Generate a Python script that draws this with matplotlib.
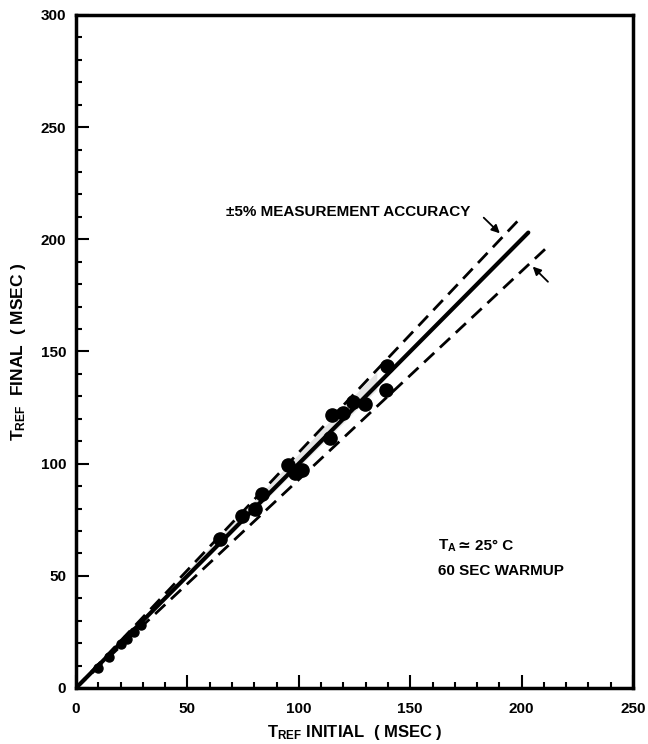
import numpy as np
import matplotlib.pyplot as plt

plt.rcParams['font.family'] = ['Liberation Sans', 'DejaVu Sans']
plt.rcParams['font.weight'] = 'bold'
plt.rcParams['mathtext.default'] = 'regular'

# measured points (T_REF initial, T_REF final), msec
x_low = [10, 15, 20, 23, 26, 29]
y_low = [9, 14, 19.5, 22, 25, 28]
x_pts = [64.6, 74.4, 80.5, 83.3, 95.3, 98.5, 101.5, 114.0, 114.7, 120.0, 124.5, 129.5, 139.4, 139.0]
y_pts = [66.2, 76.8, 80.0, 86.3, 99.5, 95.8, 97.3, 111.5, 121.6, 122.5, 127.5, 126.8, 143.3, 132.8]

# reference line and accuracy band
x_ideal = [0, 203]
y_ideal = [0, 203]
x_upper = [0, 199.5]
y_upper = [0, 209.5]
x_lower = [0, 211.5]
y_lower = [0, 196.5]
x_shade = [0, 135]
y_shade_top = [0, 141]
y_shade_bot = [0, 133]

fig = plt.figure(figsize=(6.48, 7.44), dpi=100)
ax = fig.add_axes([0.1173, 0.0753, 0.8596, 0.9046])

ax.fill_between(x_shade, y_shade_bot, y_shade_top, color='#e4e4e4', lw=0, zorder=1)
ax.plot(x_ideal, y_ideal, color='black', lw=3, solid_capstyle='round', zorder=3)
ax.plot(x_upper, y_upper, color='black', lw=2, linestyle=(0, (5, 2.8)), zorder=2)
ax.plot(x_lower, y_lower, color='black', lw=2, linestyle=(0, (5, 2.8)), zorder=2)
ax.plot(x_low, y_low, 'o', color='black', ms=6.5, zorder=4)
ax.plot(x_pts, y_pts, 'o', color='black', ms=9.5, zorder=4)

ax.text(67.5, 212, '±5% MEASUREMENT ACCURACY', fontsize=11, va='center', ha='left')
ax.annotate('', xy=(191.1, 201.8), xytext=(182.1, 210.5),
            arrowprops=dict(arrowstyle='-|>', color='black', lw=1.3, mutation_scale=12))
ax.annotate('', xy=(204.1, 188.7), xytext=(212.7, 180.2),
            arrowprops=dict(arrowstyle='-|>', color='black', lw=1.3, mutation_scale=12))

ax.text(162.5, 63.4, 'T$_{A}$', fontsize=11, va='center', ha='left')
ax.annotate('≃ 25° C', xy=(162.5, 63.4), xytext=(14.5, 0), textcoords='offset points',
            fontsize=11, va='center', ha='left')
ax.text(162.5, 52.2, '60 SEC WARMUP', fontsize=11, va='center', ha='left')

ax.set_xlim(0, 250)
ax.set_ylim(0, 300)
ax.set_xticks(np.arange(0, 251, 50))
ax.set_xticks(np.arange(0, 251, 10), minor=True)
ax.set_yticks(np.arange(0, 301, 50))
ax.set_yticks(np.arange(0, 301, 10), minor=True)
ax.tick_params(which='both', direction='in', top=False, right=False, labelsize=11, width=1.5)
ax.tick_params(which='major', length=9.5)
ax.tick_params(which='minor', length=4.5)
ax.tick_params(axis='x', pad=10)
ax.tick_params(axis='y', pad=7)
for s in ax.spines.values():
    s.set_linewidth(2.5)

ax.set_xlabel('T$_{REF}$ INITIAL  ( MSEC )', fontsize=12, fontweight='bold', labelpad=5)
ax.set_ylabel('T$_{REF}$  FINAL  ( MSEC )', fontsize=12.5, fontweight='bold', labelpad=9)

fig.savefig('out.png', dpi=100)
